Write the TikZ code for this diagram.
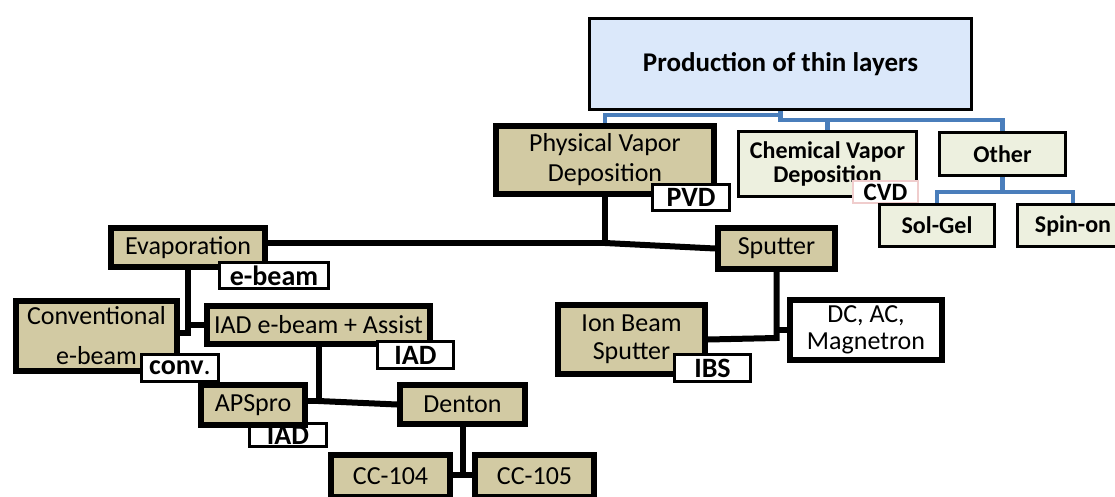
\documentclass[tikz,border=0pt]{standalone}
\usepackage{fontspec}
\setmainfont{Carlito}
\usetikzlibrary{shadows,backgrounds,calc}
\definecolor{tanc}{RGB}{210,202,163}
\definecolor{topc}{RGB}{219,232,250}
\definecolor{grnc}{RGB}{237,240,223}
\definecolor{blc}{RGB}{74,126,187}
\definecolor{pinkc}{RGB}{240,205,205}
\tikzset{
  tanbox/.style={draw=black, line width=6pt, fill=tanc, inner sep=0pt, align=center,
    font=\fontsize{26}{30}\selectfont,
    drop shadow={shadow xshift=3pt, shadow yshift=-3pt, opacity=0.25, fill=black}},
  whitebox/.style={tanbox, fill=white},
  labbox/.style={draw=black, line width=2.7pt, fill=white, inner sep=0pt,
    font=\bfseries\fontsize{28}{30}\selectfont},
  grnbox/.style={draw=black, line width=2.7pt, fill=grnc, inner sep=0pt, align=center,
    font=\bfseries\fontsize{24}{24}\selectfont},
  conn/.style={line width=6pt, draw=black},
  blconn/.style={line width=4.2pt, draw=blc}
}
\begin{document}
\begin{tikzpicture}[x=1pt,y=-1pt]
\clip (0,0) rectangle (1115,497);

% top
\node[draw=black, line width=2.7pt, fill=topc, inner sep=0pt, minimum width=382.5pt, minimum height=91.5pt,
  font=\bfseries\fontsize{27}{30}\selectfont] (top) at (780.5,64) {Production of thin layers};

% level 1
\node[tanbox, minimum width=218pt, minimum height=68pt] (pvd) at (605,160) {Physical Vapor\\Deposition};
\node[labbox, minimum width=77.5pt, minimum height=26.5pt] (pvdlab) at (691,197.5) {PVD};
\node[grnbox, minimum width=178.5pt, minimum height=64.5pt] (cvd) at (827.5,164) {Chemical Vapor\\Deposition};
\node[labbox, draw=pinkc, minimum width=65pt, minimum height=22pt, font=\bfseries\fontsize{25}{26}\selectfont] (cvdlab) at (885.5,192) {CVD};
\node[grnbox, minimum width=126.5pt, minimum height=43.5pt] (other) at (1002.5,154) {Other};
\node[grnbox, minimum width=115.5pt, minimum height=42.5pt] (solgel) at (937,225.5) {Sol-Gel};
\node[grnbox, minimum width=111.5pt, minimum height=42.5pt] (spinon) at (1073,225.5) {Spin-on};

% PVD branch
\node[tanbox, minimum width=154pt, minimum height=39pt] (evap) at (188,247.5) {Evaporation};
\node[labbox, minimum width=109.5pt, minimum height=26.5pt] (ebeamlab) at (274,275.5) {e-beam};
\node[tanbox, minimum width=117pt, minimum height=41pt] (sputter) at (776.5,248.5) {Sputter};

\node[tanbox, minimum width=161pt, minimum height=70pt, font=\fontsize{26}{40}\selectfont] (conv) at (96.5,336) {Conventional\\e-beam};
\node[tanbox, minimum width=223pt, minimum height=38pt] (iad) at (318.5,325) {IAD e-beam + Assist};
\node[labbox, minimum width=76.5pt, minimum height=27.5pt] (iadlab) at (415.5,355) {IAD};
\node[labbox, minimum width=77.5pt, minimum height=27.5pt] (convlab) at (180,368) {conv\textmd{.}};

\node[labbox, minimum width=77.5pt, minimum height=23.5pt] (apslab) at (288,435) {IAD};
\node[tanbox, minimum width=104pt, minimum height=40pt] (aps) at (253,405) {APSpro};
\node[tanbox, minimum width=125pt, minimum height=39pt] (denton) at (462.5,404.5) {Denton};
\node[tanbox, minimum width=119pt, minimum height=42pt] (cc104) at (390.5,476) {CC-104};
\node[tanbox, minimum width=119pt, minimum height=42pt] (cc105) at (534.5,476) {CC-105};

\node[tanbox, minimum width=147pt, minimum height=69pt, font=\fontsize{26}{28}\selectfont] (ibs) at (631.5,339.5) {Ion Beam\\Sputter};
\node[labbox, minimum width=76.5pt, minimum height=27.5pt] (ibslab) at (712.5,368) {IBS};
\node[whitebox, minimum width=152pt, minimum height=60pt, font=\fontsize{26}{27}\selectfont] (dc) at (866,330) {DC, AC,\\Magnetron};

% junctions
\coordinate (j1) at (605,243);
\coordinate (j2) at (188,333);
\coordinate (j3) at (318.5,401);
\coordinate (j4) at (462.5,475);
\coordinate (j5) at (776.5,338);
\coordinate (b1) at (780.5,115);
\coordinate (b2) at (780.5,120);
\coordinate (b3) at (1002.5,192);

\begin{pgfonlayer}{background}
  \fill[white] (0,0) rectangle (1115,497);
  \draw[blconn] (pvd.north) |- (b1) -- (top.south);
  \draw[blconn] (top.south) -- (b2) -| (other.north);
  \draw[blconn] (cvd.north |- b2) -- (cvd.north);
  \draw[blconn] (other.south) -- (b3);
  \draw[blconn] (solgel.north) |- (b3) -| (spinon.north);

  \draw[conn] (pvd.south) -- (j1) -- (evap.east |- j1);
  \draw[conn] (j1) -- (sputter.west);
  \draw[conn] (evap.south) -- (j2) -- (conv.east |- j2);
  \draw[conn] (j2 |- iad.west) -- (iad.west);
  \draw[conn] (iad.south) -- (j3) -- (aps.east |- j3);
  \draw[conn] (j3) -- (denton.west);
  \draw[conn] (denton.south) -- (j4) -- (cc104.east |- j4);
  \draw[conn] (j4) -- (cc105.west |- j4);
  \draw[conn] (sputter.south) -- (j5) -- (ibs.east);
  \draw[conn] (dc.west -| j5) -- (dc.west);
\end{pgfonlayer}
\end{tikzpicture}
\end{document}
